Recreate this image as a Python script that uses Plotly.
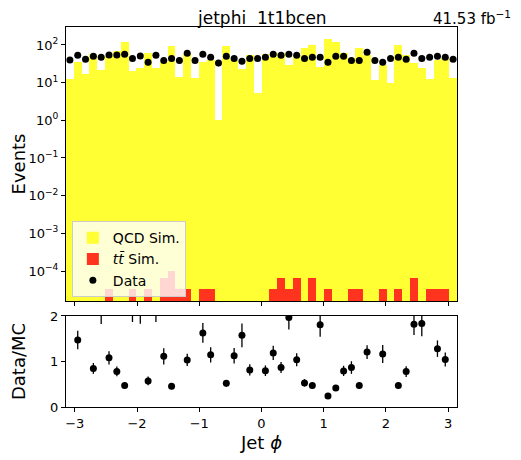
import numpy as np
import plotly.graph_objects as go

# 50 bins in jet phi from -pi to pi
n_bins = 50
edges = np.linspace(-np.pi, np.pi, n_bins + 1)
centers = 0.5 * (edges[:-1] + edges[1:])
width = edges[1] - edges[0]

qcd = [12.6, 36, 17, 59, 22, 50, 69, 120, 20, 24, 61, 24.5,
       35, 96, 14, 58, 13.5, 35, 41, 1.0, 96, 39, 23.5, 54,
       5.4, 59, 48, 61, 29, 51, 83, 100, 26, 144, 120, 63,
       45, 83, 53, 12, 30, 10, 100, 54, 33, 24, 12.6, 39,
       45, 13]

ttbar = [0, 0, 0, 0, 0, 3.3e-5, 0, 0, 3.3e-5, 0, 3.3e-5, 0,
         6.5e-5, 1.0e-4, 3.3e-5, 3.3e-5, 0, 3.3e-5, 3.3e-5, 0, 0, 0, 0, 0,
         0, 0, 3.3e-5, 6.5e-5, 3.3e-5, 6.5e-5, 0, 6.5e-5, 0, 3.3e-5, 0, 0,
         3.3e-5, 3.3e-5, 0, 0, 3.3e-5, 0, 3.3e-5, 0, 6.5e-5, 0, 3.3e-5, 3.3e-5,
         3.3e-5, 0]

data = [40, 53, 42, 50, 47, 54, 54, 57, 44, 51, 35, 53,
        39, 44, 39, 60, 39, 57, 47, 33, 50, 44, 37, 44,
        44, 47, 57, 53, 57, 53, 44, 47, 47, 35, 50, 50,
        39, 39, 64, 39, 35, 44, 47, 42, 60, 44, 47, 50,
        47, 42]

x_ticks = [-3, -2, -1, 0, 1, 2, 3]
y_ticks = [1e-4, 1e-3, 1e-2, 1e-1, 1e0, 1e1, 1e2]
y_ticktext = ["10<sup>−4</sup>", "10<sup>−3</sup>", "10<sup>−2</sup>", "10<sup>−1</sup>",
              "10<sup>0</sup>", "10<sup>1</sup>", "10<sup>2</sup>"]
minor_ticks = [m * 10.0 ** e for e in range(-5, 3) for m in range(2, 10)]

qcd_a = np.array(qcd)
tt_a = np.array(ttbar)
data_a = np.array(data, dtype=float)
mc = qcd_a + tt_a
ratio = data_a / mc
ratio_err = np.sqrt(data_a) / mc

FONT = "DejaVu Sans"
YELLOW = "rgb(255,255,51)"
RED = "rgb(255,51,30)"
YRANGE = [np.log10(1.6e-5), np.log10(300)]

fig = go.Figure()
fig.add_trace(go.Bar(x=centers, y=ttbar, width=width, name="<i>t</i><i>t̄</i> Sim.",
                     marker=dict(color=RED, line=dict(width=0)), xaxis="x", yaxis="y",
                     legendrank=2))
fig.add_trace(go.Bar(x=centers, y=qcd, width=width, name="QCD Sim.",
                     marker=dict(color=YELLOW, line=dict(width=0)), xaxis="x", yaxis="y",
                     legendrank=1))
fig.add_trace(go.Scatter(x=centers, y=data, mode="markers", name="Data",
                         marker=dict(color="black", size=7),
                         error_y=dict(type="data", array=np.sqrt(data_a), color="black",
                                      thickness=1.3, width=0),
                         xaxis="x", yaxis="y", legendrank=3))
fig.add_trace(go.Scatter(x=centers, y=ratio, mode="markers", showlegend=False,
                         marker=dict(color="black", size=7),
                         error_y=dict(type="data", array=ratio_err, color="black",
                                      thickness=1.3, width=0),
                         cliponaxis=True, xaxis="x2", yaxis="y2"))

axis_common = dict(showline=True, linecolor="black", linewidth=1, mirror=True,
                   ticks="outside", ticklen=4, tickcolor="black", showgrid=False,
                   zeroline=False, automargin=False,
                   tickfont=dict(family=FONT, size=13, color="black"))

# page body has an 8px margin; size the figure to fill the rest of the window
fig.update_layout(
    width=513, height=452,
    margin=dict(l=58, r=64, t=19, b=53, autoexpand=False),
    paper_bgcolor="white", plot_bgcolor="white",
    barmode="stack", bargap=0,
    font=dict(family=FONT, color="black"),
    xaxis=dict(domain=[0, 1], range=[-np.pi, np.pi], anchor="y", tickvals=x_ticks,
               showticklabels=False, **axis_common),
    yaxis=dict(domain=[0.279, 1], type="log", range=YRANGE,
               tickvals=y_ticks, ticktext=y_ticktext,
               title=dict(text="Events", font=dict(family=FONT, size=18), standoff=2),
               **axis_common),
    yaxis3=dict(overlaying="y", type="log", range=YRANGE, tickvals=minor_ticks,
                showticklabels=False, ticks="outside", ticklen=2, tickcolor="black",
                showline=False, showgrid=False, zeroline=False, automargin=False,
                anchor="x", side="left"),
    xaxis2=dict(domain=[0, 1], range=[-np.pi, np.pi], anchor="y2", tickvals=x_ticks,
                title=dict(text="Jet <i>ϕ</i>", font=dict(family=FONT, size=18), standoff=6),
                **axis_common),
    yaxis2=dict(domain=[0, 0.2395], range=[0, 2], tickvals=[0, 1, 2], anchor="x2",
                title=dict(text="Data/MC", font=dict(family=FONT, size=18), standoff=21),
                **axis_common),
    legend=dict(x=0.015, y=0.289, xanchor="left", yanchor="bottom",
                bgcolor="rgba(255,255,255,0.8)", bordercolor="rgb(204,204,204)", borderwidth=1,
                font=dict(family=FONT, size=14), traceorder="normal"),
    showlegend=True,
)

fig.add_annotation(text="jetphi  1t1bcen", xref="paper", yref="paper", x=0.5, y=1.0,
                   xanchor="center", yanchor="bottom", yshift=-2, borderpad=0,
                   showarrow=False, font=dict(family=FONT, size=17))
fig.add_annotation(text="41.53 fb<sup>−1</sup>", xref="paper", yref="paper",
                   x=(512 - 66) / 391, y=1.0,
                   xanchor="right", yanchor="bottom", yshift=-2, borderpad=0,
                   showarrow=False, font=dict(family=FONT, size=15))

fig.write_html("out.html")
